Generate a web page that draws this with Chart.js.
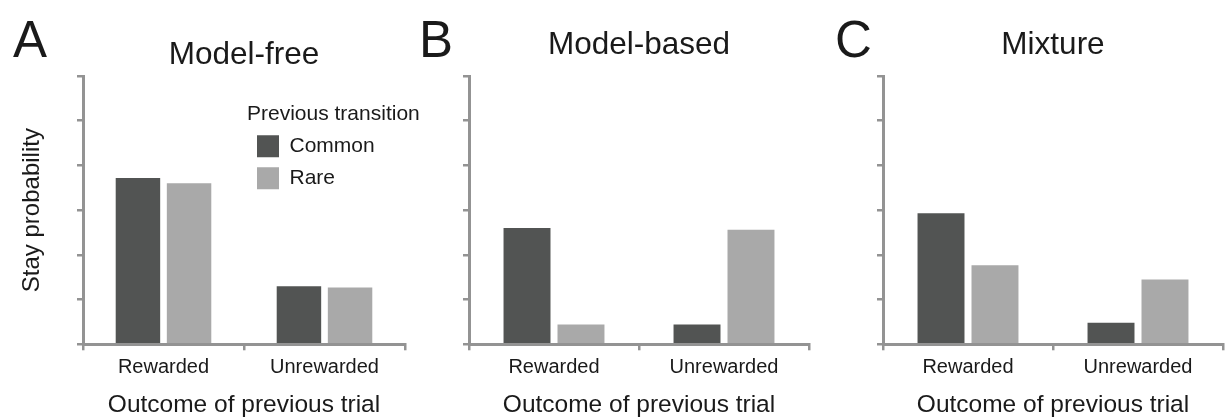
<!DOCTYPE html>
<html>
<head>
<meta charset="utf-8">
<script src="https://cdn.jsdelivr.net/npm/chart.js@4.4.1/dist/chart.umd.min.js"></script>
<style>
  html, body { margin: 0; padding: 0; background: #fff; overflow: hidden; }
  #fig { position: relative; width: 1230px; height: 417px; overflow: hidden; font-family: "Liberation Sans", Arial, sans-serif; }
  #fig canvas { position: absolute; top: 0; }
  .letter { position: absolute; top: 14px; font-size: 51px; line-height: 51px; color: #1a1a1a; }
</style>
</head>
<body>
<div id="fig">
  <canvas id="modelFree" width="440" height="420" style="left:0px"></canvas>
  <canvas id="modelBased" width="410" height="420" style="left:410px"></canvas>
  <canvas id="mixture" width="410" height="420" style="left:820px"></canvas>
  <div class="letter" style="left:13px">A</div>
  <div class="letter" style="left:419px">B</div>
  <div class="letter" style="left:835px">C</div>
</div>
<script>
// data (stay probability read in axis-tick units, axis runs 0..6 without labels)
var outcomes = ["Rewarded", "Unrewarded"];
var transitions = ["Common", "Rare"];
var modelFreeCommon = [3.72, 1.30];
var modelFreeRare = [3.60, 1.27];
var modelBasedCommon = [2.60, 0.44];
var modelBasedRare = [0.44, 2.56];
var mixtureCommon = [2.93, 0.48];
var mixtureRare = [1.77, 1.45];
var yMin = 0;
var yMax = 6;
var yStep = 1;

var darkGrey = "#525453";
var lightGrey = "#a9a9a9";
var axisGrey = "#939393";
var textColor = "#1a1a1a";

Chart.defaults.font.family = '"Liberation Sans", Arial, sans-serif';

// put the legend inside the plot, top right of panel A
var legendPlacement = {
	id: "legendPlacement",
	afterLayout: function (chart) {
		var lg = chart.legend;
		var area = chart.chartArea;
		lg.left = area.left + 164;
		lg.top = area.top + 28.2;
		lg.right = lg.left + 200; // wide enough for the legend title
		lg.bottom = lg.top + lg.height;
	},
};

function makePanel(canvasId, title, common, rare, o) {
	var ctx = document.getElementById(canvasId).getContext("2d");
	return new Chart(ctx, {
		type: "bar",
		data: {
			labels: outcomes,
			datasets: [
				{
					label: transitions[0],
					data: common,
					backgroundColor: darkGrey,
					borderColor: darkGrey,
					borderWidth: 0,
				},
				{
					label: transitions[1],
					data: rare,
					backgroundColor: lightGrey,
					borderColor: lightGrey,
					borderWidth: 0,
				},
			],
		},
		options: {
			responsive: false,
			maintainAspectRatio: false,
			animation: false,
			categoryPercentage: 0.635,
			barPercentage: 0.87,
			layout: { padding: o.padding },
			scales: {
				x: {
					grid: {
						offset: true,
						drawOnChartArea: false,
						drawTicks: true,
						tickLength: 6,
						color: axisGrey,
						lineWidth: 2.5,
					},
					border: { display: true, color: axisGrey, width: 3, z: 1 },
					ticks: {
						color: textColor,
						font: { size: 20 },
						padding: 5,
						maxRotation: 0,
						autoSkip: false,
					},
					title: {
						display: true,
						text: "Outcome of previous trial",
						color: textColor,
						font: { size: 24.5 },
						padding: { top: 6.3, bottom: 0 },
					},
				},
				y: {
					min: yMin,
					max: yMax,
					ticks: { display: false, stepSize: yStep },
					grid: {
						drawOnChartArea: false,
						drawTicks: true,
						tickLength: 6,
						color: axisGrey,
						lineWidth: 2.5,
					},
					border: { display: true, color: axisGrey, width: 3, z: 1 },
					title: {
						display: o.yTitle,
						text: "Stay probability",
						color: textColor,
						font: { size: 24 },
						padding: { top: 18.3, bottom: 29.9 },
					},
				},
			},
			plugins: {
				title: {
					display: true,
					text: title,
					fullSize: false,
					color: textColor,
					font: { size: 31.5, weight: "normal" },
					padding: o.titlePad,
				},
				legend: {
					display: o.legend,
					position: "chartArea",
					align: "start",
					labels: {
						boxWidth: 22,
						boxHeight: 22,
						padding: 10,
						color: textColor,
						font: { size: 21 },
					},
					title: {
						display: true,
						text: "Previous transition",
						position: "start",
						color: textColor,
						font: { size: 21, lineHeight: 1 },
						padding: 0,
					},
				},
				tooltip: { enabled: false },
			},
		},
		plugins: o.legend ? [legendPlacement] : [],
	});
}

var chartModelFree = makePanel("modelFree", "Model-free", modelFreeCommon, modelFreeRare, {
	padding: { left: 0, right: 35, top: 0, bottom: 0 },
	titlePad: { top: 36.1, bottom: 2.1 },
	yTitle: true,
	legend: true,
});
var chartModelBased = makePanel("modelBased", "Model-based", modelBasedCommon, modelBasedRare, {
	padding: { left: 53, right: 11, top: 0, bottom: 0 },
	titlePad: { top: 26.1, bottom: 12.1 },
	yTitle: false,
	legend: false,
});
var chartMixture = makePanel("mixture", "Mixture", mixtureCommon, mixtureRare, {
	padding: { left: 57, right: 7, top: 0, bottom: 0 },
	titlePad: { top: 26.1, bottom: 12.1 },
	yTitle: false,
	legend: false,
});
</script>
</body>
</html>
